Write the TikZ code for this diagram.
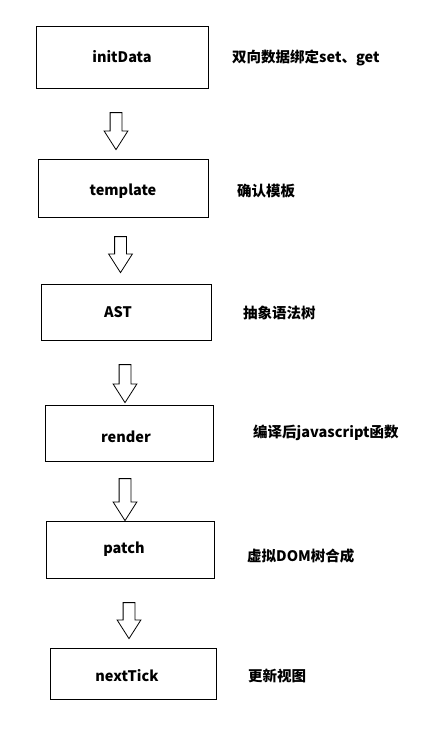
\documentclass[tikz,border=0pt]{standalone}
\usepackage{fontspec}
\setmainfont{Noto Sans CJK SC}
\usetikzlibrary{shapes.arrows}
\tikzset{
  stagebox/.style={draw=black, line width=0.9pt, rectangle, inner sep=0pt, font=\fontsize{14.5}{17}\selectfont\bfseries},
  sidenote/.style={anchor=west, inner sep=0pt, font=\fontsize{14.5}{17}\selectfont\bfseries},
  flowarrow/.style={draw=black, line width=0.8pt, single arrow, rotate=270, inner xsep=0pt, inner ysep=5.5pt,
    single arrow head extend=6pt, single arrow tip angle=65, minimum width=0pt}
}
\begin{document}
\begin{tikzpicture}[x=1pt,y=-1pt]
\useasboundingbox (0,0) rectangle (436,739);
\node[stagebox, minimum width=172pt, minimum height=62pt] (b1) at (122,57) {initData};
\node[stagebox, minimum width=170pt, minimum height=58pt] (b2) at (123,188) {\raisebox{-3pt}[\height][\depth]{template}};
\node[stagebox, minimum width=170pt, minimum height=56pt] (b3) at (126,312) {\hspace*{-16pt}AST};
\node[stagebox, minimum width=168pt, minimum height=56pt] (b4) at (129,433) {\hspace*{-6pt}\raisebox{-4pt}[\height][\depth]{render}};
\node[stagebox, minimum width=168pt, minimum height=57pt] (b5) at (130,549.5) {\hspace*{-12pt}patch};
\node[stagebox, minimum width=166pt, minimum height=51pt] (b6) at (133,673.5) {\hspace*{-12pt}\raisebox{-2.5pt}[\height][\depth]{nextTick}};

\node[flowarrow, minimum height=37pt] (a1) at (116,126.5) {};
\node[flowarrow, minimum height=36pt] (a2) at (120.5,250) {};
\node[flowarrow, minimum height=38pt] (a3) at (125,379) {};
\node[flowarrow, minimum height=42pt] (a4) at (125,495) {};
\node[flowarrow, minimum height=36pt] (a5) at (129,616) {};

\node[sidenote] (l1) at (232,58) {双向数据绑定set、get};
\node[sidenote] (l2) at (237,191) {确认模板};
\node[sidenote] (l3) at (243,313) {抽象语法树};
\node[sidenote] (l4) at (253,433) {编译后javascript函数};
\node[sidenote] (l5) at (247,556) {虚拟DOM树合成};
\node[sidenote] (l6) at (248,676) {更新视图};
\end{tikzpicture}
\end{document}
